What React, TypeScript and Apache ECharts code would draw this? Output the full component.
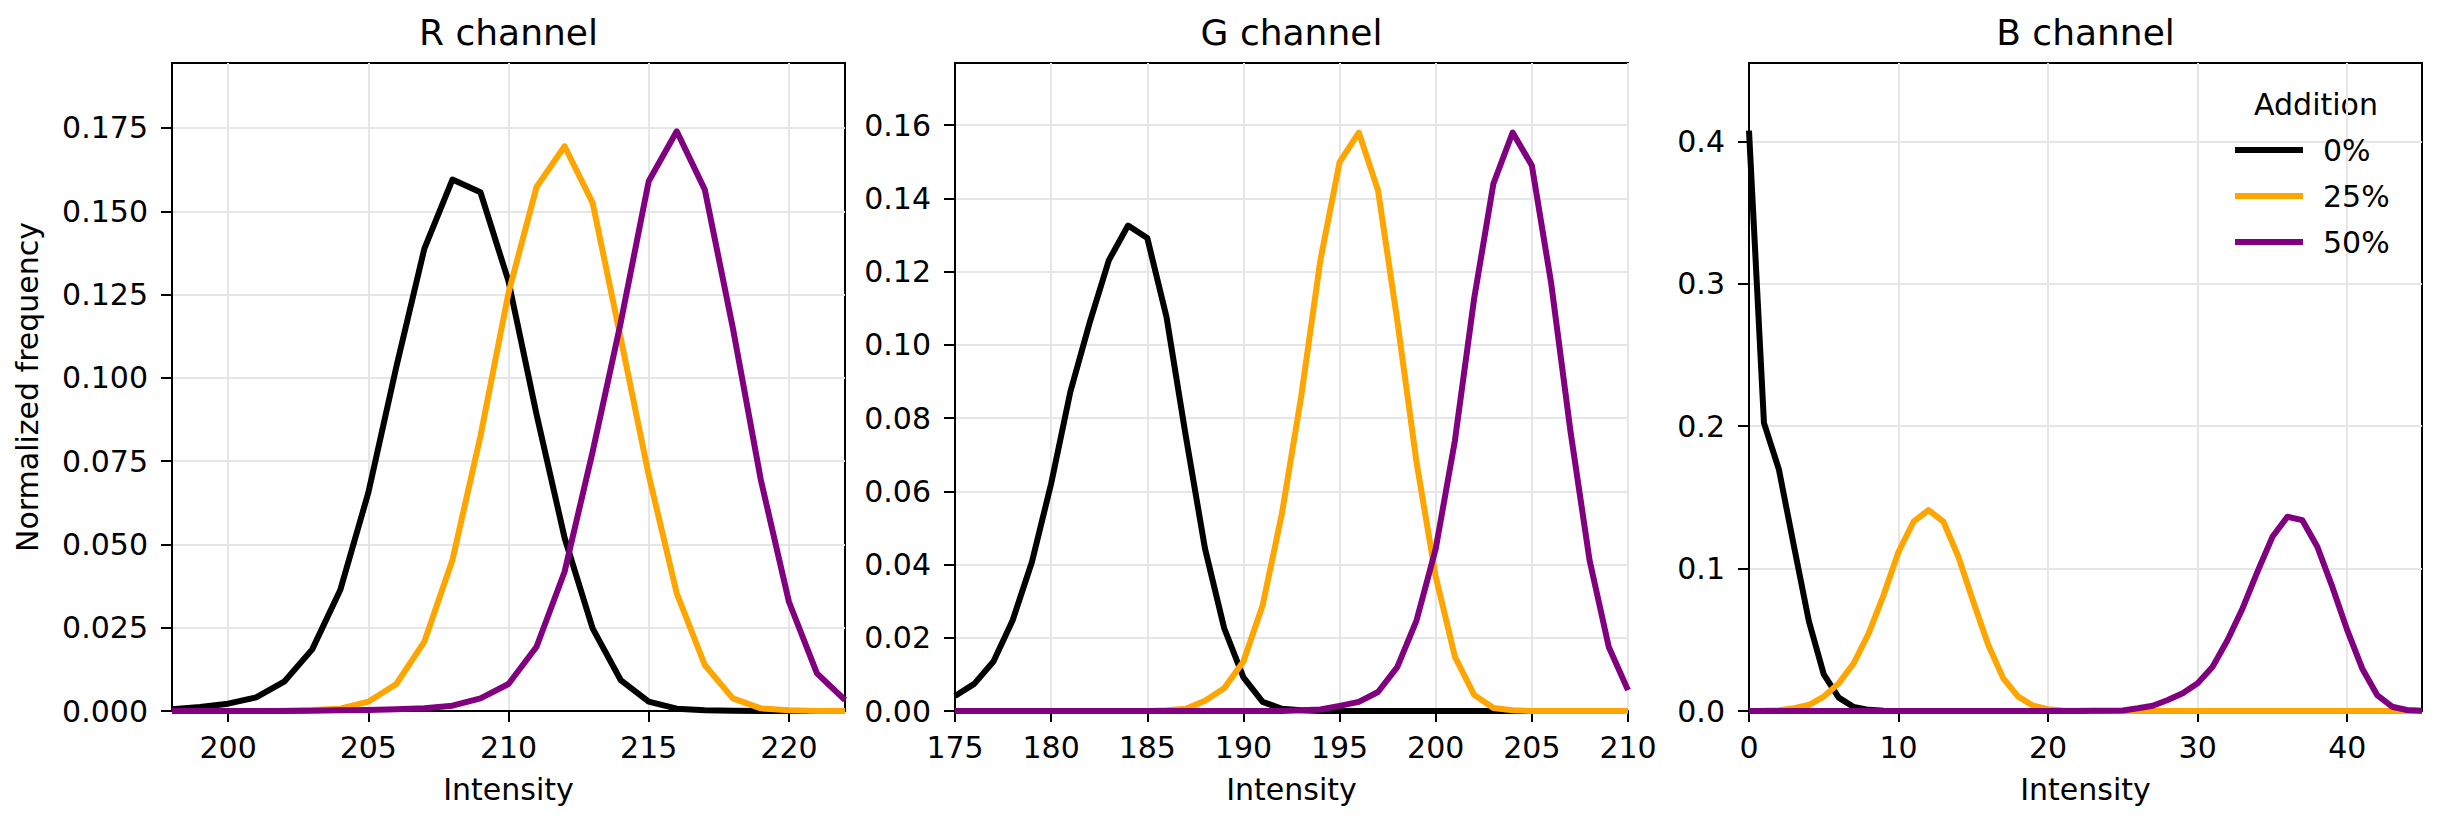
import React, { useEffect, useRef } from "react";
import * as echarts from "echarts";

// ---------- data ----------
const rIntensity = [198, 199, 200, 201, 202, 203, 204, 205, 206, 207, 208, 209, 210, 211, 212, 213, 214, 215, 216, 217, 218, 219, 220, 221, 222];
const rBlack = [0.0005, 0.0012, 0.0022, 0.0041, 0.0088, 0.0185, 0.0363, 0.0655, 0.1033, 0.1388, 0.1595, 0.1557, 0.129, 0.089, 0.052, 0.0248, 0.0093, 0.0028, 0.0007, 0.0002, 0.0001, 0, 0, 0, 0];
const rOrange = [0, 0, 0, 0, 0.0001, 0.0003, 0.0007, 0.0028, 0.0081, 0.0208, 0.0453, 0.0825, 0.1255, 0.1573, 0.1695, 0.1525, 0.112, 0.0708, 0.0353, 0.0138, 0.0038, 0.0008, 0.0002, 0, 0];
const rPurple = [0, 0, 0, 0, 0, 0.0001, 0.0002, 0.0003, 0.0005, 0.0008, 0.0016, 0.0038, 0.0081, 0.0193, 0.0418, 0.0778, 0.1165, 0.159, 0.174, 0.1565, 0.115, 0.0693, 0.0328, 0.0113, 0.0033];

const gIntensity = [175, 176, 177, 178, 179, 180, 181, 182, 183, 184, 185, 186, 187, 188, 189, 190, 191, 192, 193, 194, 195, 196, 197, 198, 199, 200, 201, 202, 203, 204, 205, 206, 207, 208, 209, 210];
const gBlack = [0.0041, 0.0074, 0.0135, 0.0248, 0.0407, 0.0621, 0.0872, 0.106, 0.1231, 0.1326, 0.1292, 0.1076, 0.0752, 0.0444, 0.0226, 0.0092, 0.0025, 0.0006, 0.0002, 0, 0, 0, 0, 0, 0, 0, 0, 0, 0, 0, 0, 0, 0, 0, 0, 0];
const gOrange = [0, 0, 0, 0, 0, 0, 0, 0, 0, 0, 0, 0.0002, 0.0006, 0.0028, 0.0062, 0.0135, 0.0289, 0.0539, 0.0858, 0.1231, 0.1499, 0.158, 0.1422, 0.1067, 0.068, 0.0367, 0.0148, 0.0044, 0.0008, 0.0002, 0, 0, 0, 0, 0, 0];
const gPurple = [0, 0, 0, 0, 0, 0, 0, 0, 0, 0, 0, 0, 0, 0, 0, 0, 0, 0, 0.0002, 0.0004, 0.0014, 0.0025, 0.0052, 0.012, 0.0247, 0.0443, 0.0739, 0.1127, 0.144, 0.158, 0.149, 0.117, 0.0767, 0.0412, 0.0175, 0.0057];

const bIntensity = [0, 1, 2, 3, 4, 5, 6, 7, 8, 9, 10, 11, 12, 13, 14, 15, 16, 17, 18, 19, 20, 21, 22, 23, 24, 25, 26, 27, 28, 29, 30, 31, 32, 33, 34, 35, 36, 37, 38, 39, 40, 41, 42, 43, 44, 45];
const bBlack = [0.4075, 0.2023, 0.1696, 0.116, 0.0632, 0.0257, 0.0094, 0.0028, 0.0008, 0.0002, 0, 0, 0, 0, 0, 0, 0, 0, 0, 0, 0, 0, 0, 0, 0, 0, 0, 0, 0, 0, 0, 0, 0, 0, 0, 0, 0, 0, 0, 0, 0, 0, 0, 0, 0, 0];
const bOrange = [0, 0.0001, 0.0005, 0.0019, 0.0042, 0.0101, 0.0194, 0.0335, 0.0545, 0.0814, 0.1118, 0.1329, 0.1411, 0.1329, 0.1083, 0.0767, 0.0463, 0.0229, 0.0101, 0.0037, 0.0012, 0.0004, 0.0001, 0, 0, 0, 0, 0, 0, 0, 0, 0, 0, 0, 0, 0, 0, 0, 0, 0, 0, 0, 0, 0, 0, 0];
const bPurple = [0, 0, 0, 0, 0, 0, 0, 0, 0, 0, 0, 0, 0, 0, 0, 0, 0, 0, 0, 0, 0, 0, 0, 0.0001, 0.0002, 0.0004, 0.0019, 0.0037, 0.0077, 0.0124, 0.0194, 0.0311, 0.0498, 0.072, 0.0978, 0.1223, 0.1364, 0.134, 0.1153, 0.0873, 0.0568, 0.0299, 0.0112, 0.003, 0.0007, 0.0002];

const seriesNames = ["0%", "25%", "50%"];
const seriesColors = ["#000000", "#FFA500", "#800080"];
const panelTitles = ["R channel", "G channel", "B channel"];

const rXTicks = [200, 205, 210, 215, 220];
const gXTicks = [175, 180, 185, 190, 195, 200, 205, 210];
const bXTicks = [0, 10, 20, 30, 40];
const rYTicks = [0, 0.025, 0.05, 0.075, 0.1, 0.125, 0.15, 0.175];
const gYTicks = [0, 0.02, 0.04, 0.06, 0.08, 0.1, 0.12, 0.14, 0.16];
const bYTicks = [0, 0.1, 0.2, 0.3, 0.4];

const FONT = '"DejaVu Sans", "Liberation Sans", sans-serif';

export default function App() {
  const ref = useRef<HTMLDivElement>(null);

  useEffect(() => {
    if (!ref.current) return;
    const chart = echarts.init(ref.current, undefined, { renderer: "svg" });

    const panels = [
      { x: rIntensity, ys: [rBlack, rOrange, rPurple], xMin: 198, xMax: 222, yMax: 0.1945, xTicks: rXTicks, yTicks: rYTicks, dec: 3, left: 172 },
      { x: gIntensity, ys: [gBlack, gOrange, gPurple], xMin: 175, xMax: 210, yMax: 0.177, xTicks: gXTicks, yTicks: gYTicks, dec: 2, left: 955 },
      { x: bIntensity, ys: [bBlack, bOrange, bPurple], xMin: 0, xMax: 45, yMax: 0.455, xTicks: bXTicks, yTicks: bYTicks, dec: 1, left: 1749 },
    ];
    const W = 673;
    const TOP = 63;
    const H = 648;

    const grid = panels.map((p) => ({
      left: p.left,
      top: TOP,
      width: W,
      height: H,
      show: true,
      borderColor: "#000",
      borderWidth: 2,
      backgroundColor: "transparent",
      containLabel: false,
    }));

    const gridLine = { show: true, lineStyle: { color: "#e6e6e6", width: 2 } };

    const xAxis = panels.map((p, i) => ({
      type: "value",
      gridIndex: i,
      min: p.xMin,
      max: p.xMax,
      axisLine: { show: true, onZero: false, lineStyle: { color: "#000", width: 2 } },
      axisTick: { show: true, length: 11, lineStyle: { color: "#000", width: 2 }, customValues: p.xTicks },
      axisLabel: {
        customValues: p.xTicks,
        fontSize: 30,
        fontFamily: FONT,
        color: "#000",
        margin: 21,
        formatter: (v: number) => String(v),
      },
      splitLine: gridLine,
    }));

    const yAxis = panels.map((p, i) => ({
      type: "value",
      gridIndex: i,
      min: 0,
      max: p.yMax,
      axisLine: { show: true, onZero: false, lineStyle: { color: "#000", width: 2 } },
      axisTick: { show: true, length: 11, lineStyle: { color: "#000", width: 2 }, customValues: p.yTicks },
      axisLabel: {
        customValues: p.yTicks,
        fontSize: 30,
        fontFamily: FONT,
        color: "#000",
        margin: 24,
        formatter: (v: number) => v.toFixed(p.dec),
      },
      splitLine: gridLine,
    }));

    const series: any[] = [];
    panels.forEach((p, i) => {
      p.ys.forEach((ys, k) => {
        series.push({
          type: "line",
          name: seriesNames[k],
          xAxisIndex: i,
          yAxisIndex: i,
          data: p.x.map((xv, j) => [xv, ys[j]]),
          showSymbol: false,
          symbol: "none",
          color: seriesColors[k],
          lineStyle: { color: seriesColors[k], width: 6, join: "round" },
          clip: true,
          z: 3 + k,
        });
      });
    });

    const graphic: any[] = [];
    panels.forEach((p, i) => {
      const cx = p.left + W / 2;
      graphic.push({
        type: "text",
        x: cx,
        y: 32.5,
        style: { text: panelTitles[i], font: `36px ${FONT}`, fill: "#000", align: "center", verticalAlign: "middle", textAlign: "center", textVerticalAlign: "middle" },
      });
      graphic.push({
        type: "text",
        x: cx,
        y: 789,
        style: { text: "Intensity", font: `30px ${FONT}`, fill: "#000", align: "center", verticalAlign: "middle", textAlign: "center", textVerticalAlign: "middle" },
      });
    });
    graphic.push({
      type: "text",
      x: 27,
      y: 387,
      rotation: Math.PI / 2,
      style: { text: "Normalized frequency", font: `30px ${FONT}`, fill: "#000", align: "center", verticalAlign: "middle", textAlign: "center", textVerticalAlign: "middle" },
    });
    graphic.push({
      type: "text",
      x: 2316,
      y: 104.5,
      style: { text: "Addition", font: `30px ${FONT}`, fill: "#000", align: "center", verticalAlign: "middle", textAlign: "center", textVerticalAlign: "middle" },
    });

    chart.setOption({
      animation: false,
      backgroundColor: "#ffffff",
      grid,
      xAxis,
      yAxis,
      series,
      graphic,
      legend: {
        data: seriesNames,
        orient: "vertical",
        left: 2235,
        top: 135,
        icon: "rect",
        itemWidth: 68,
        itemHeight: 6,
        itemGap: 16,
        padding: 0,
        itemStyle: { borderWidth: 0 },
        textStyle: { fontSize: 30, fontFamily: FONT, color: "#000", lineHeight: 30, padding: [0, 0, 0, 15] },
      },
    });

    return () => {
      chart.dispose();
    };
  }, []);

  return (
    <div
      ref={ref}
      style={{ position: "fixed", left: 0, top: 0, width: 2439, height: 822, background: "#fff" }}
    />
  );
}
